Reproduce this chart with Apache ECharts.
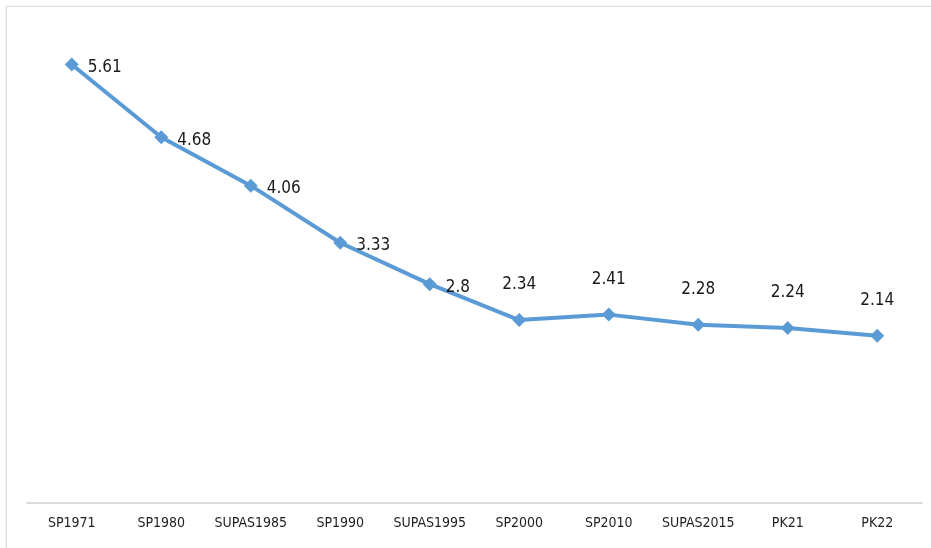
<!DOCTYPE html>
<html>
<head>
<meta charset="utf-8">
<script src="https://cdn.jsdelivr.net/npm/echarts@6/dist/echarts.min.js"></script>
<style>
  html, body { margin: 0; padding: 0; background: #fff; }
  #frame { position: absolute; left: 6px; top: 6px; width: 940px; height: 560px; border: 1px solid #d9d9d9; box-shadow: 0 1px 3px #e6e6e6; }
  #chart { position: absolute; left: 0; top: 0; width: 931px; height: 548px; }
</style>
</head>
<body>
<div id="frame"></div>
<div id="chart"></div>
<script>
  var categories = ['SP1971', 'SP1980', 'SUPAS1985', 'SP1990', 'SUPAS1995', 'SP2000', 'SP2010', 'SUPAS2015', 'PK21', 'PK22']
  var values = [5.61, 4.68, 4.06, 3.33, 2.8, 2.34, 2.41, 2.28, 2.24, 2.14]
  // first five labels sit to the right of the marker, the rest above it
  var labelSide = ['right', 'right', 'right', 'right', 'right', 'top', 'top', 'top', 'top', 'top']

  var myChart = echarts.init(document.getElementById('chart'))
  var seriesData = values.map(function (v, i) {
    return {
      value: v,
      label: labelSide[i] == 'right'
        ? { position: 'right', distance: 9, offset: [0, 3] }
        : { position: 'top', distance: 20 }
    }
  })
  var option = {
    animation: false,
    grid: {
      left: 27,
      right: 9,
      top: 34,
      bottom: 45
    },
    xAxis: {
      type: 'category',
      data: categories,
      boundaryGap: true,
      axisLine: { lineStyle: { color: '#d0d0d0', width: 1.5 } },
      axisTick: { show: false },
      axisLabel: {
        interval: 0,
        color: '#1f1f1f',
        fontSize: 14,
        fontFamily: 'DejaVu Sans Condensed, Liberation Sans, sans-serif',
        margin: 13
      }
    },
    yAxis: {
      type: 'value',
      min: 0,
      max: 6,
      show: false
    },
    series: [
      {
        type: 'line',
        data: seriesData,
        symbol: 'diamond',
        symbolSize: 14,
        itemStyle: { color: '#5b9bd5' },
        lineStyle: { color: '#5b9bd5', width: 4 },
        label: {
          show: true,
          color: '#1a1a1a',
          fontSize: 17,
          fontFamily: 'DejaVu Sans Condensed, Liberation Sans, sans-serif'
        }
      }
    ]
  }
  myChart.setOption(option)
</script>
</body>
</html>
